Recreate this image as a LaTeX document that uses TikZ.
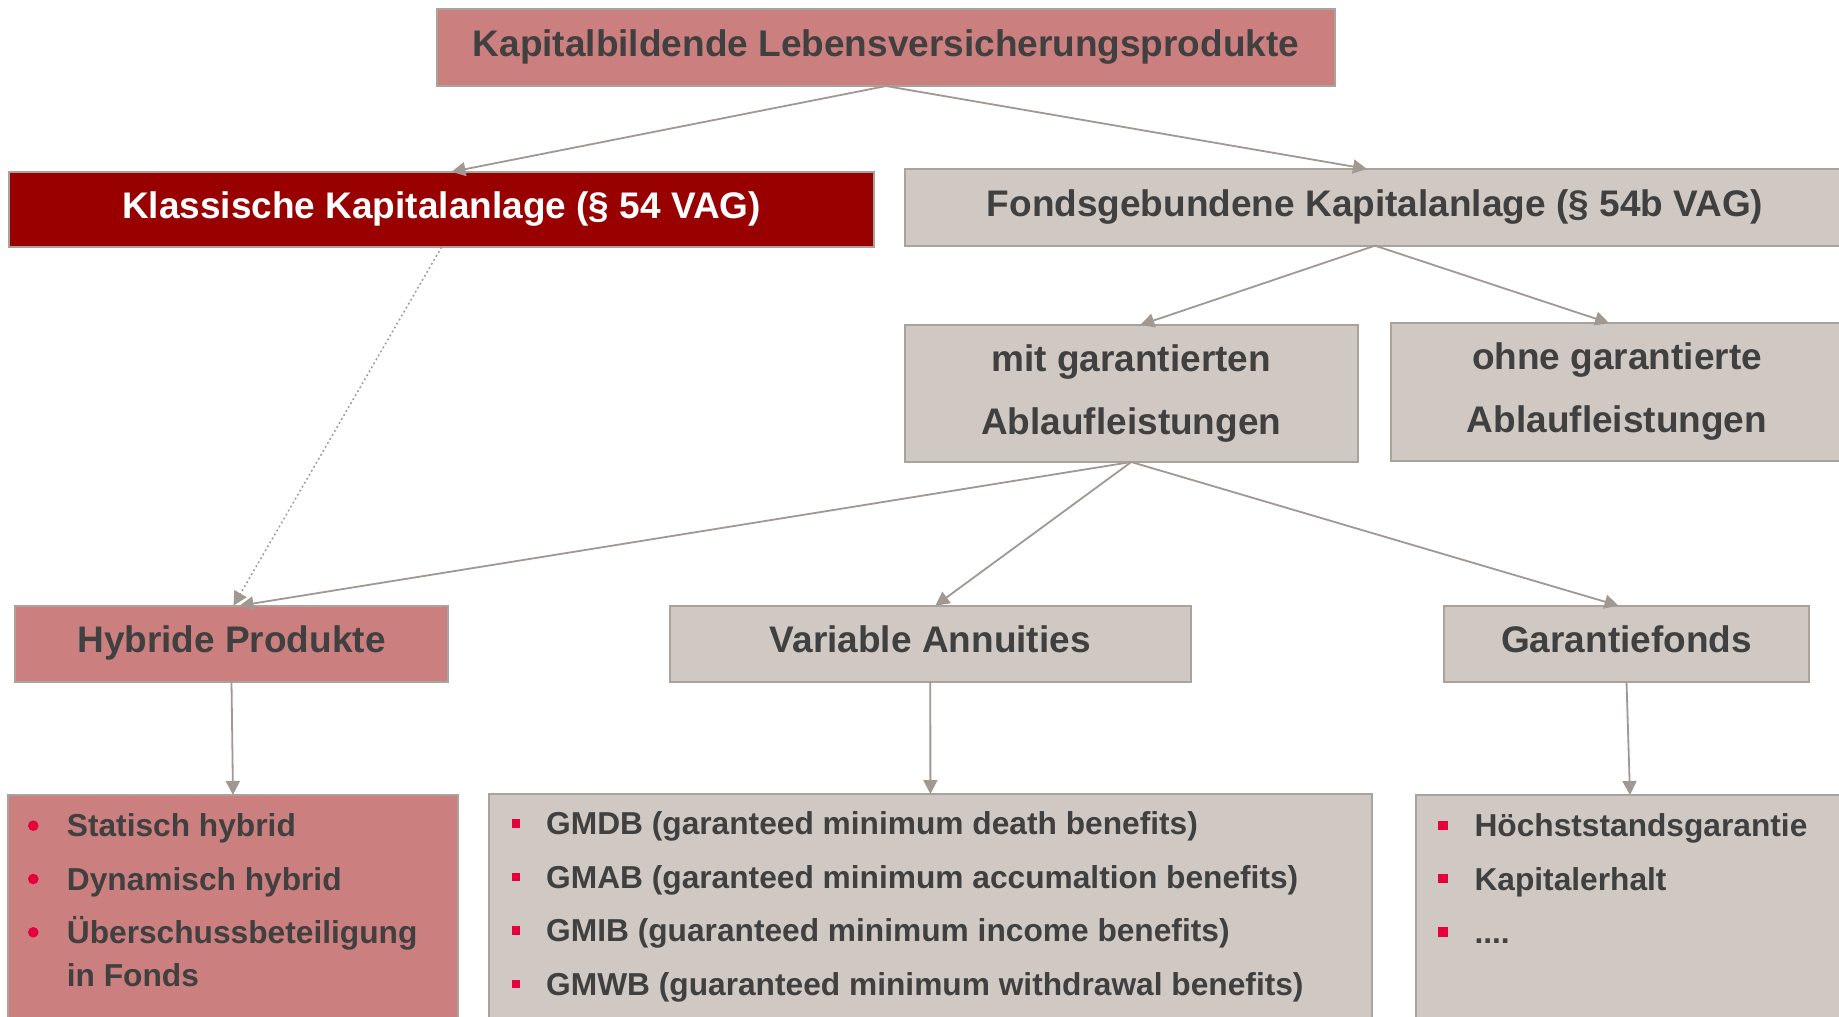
\documentclass[tikz,border=0pt]{standalone}
\usepackage{fontspec}
\setmainfont{Liberation Sans}
\usetikzlibrary{arrows.meta}
\definecolor{pinkfill}{HTML}{CC7F7F}
\definecolor{redfill}{HTML}{990000}
\definecolor{grayfill}{HTML}{D0C9C3}
\definecolor{bordergray}{HTML}{AAA39D}
\definecolor{arrowgray}{HTML}{A09891}
\definecolor{textdark}{HTML}{404040}
\definecolor{bulletred}{HTML}{E6003C}
\newcommand\hdrfont{\fontsize{37}{44}\selectfont\bfseries}
\newcommand\bulfont{\fontsize{31.7}{38}\selectfont\bfseries}
\begin{document}
\begin{tikzpicture}[x=1pt,y=-1pt,
  box/.style={draw=bordergray, line width=2pt, inner sep=0pt, outer sep=0pt,
    text height=27pt, text depth=9pt, font=\hdrfont, text=textdark},
  pinkbox/.style={box, fill=pinkfill},
  redbox/.style={box, fill=redfill, text=white},
  graybox/.style={box, fill=grayfill},
  hdrtext/.style={font=\hdrfont, text=textdark, inner sep=0pt, anchor=base},
  bultext/.style={font=\bulfont, text=textdark, inner sep=0pt, anchor=base west},
  dotbul/.style={circle, fill=bulletred, inner sep=0pt, minimum size=10.6pt},
  sqbul/.style={rectangle, fill=bulletred, inner sep=0pt, minimum size=#1},
  arr/.style={draw=arrowgray, line width=1.8pt, -{Triangle[length=14pt,width=14pt]}},
  dotarr/.style={draw=arrowgray, line width=1.5pt, dash pattern=on 1.8pt off 2.8pt,
    -{Triangle[length=14pt,width=14pt,fill=arrowgray]}}
]
\useasboundingbox (0,0) rectangle (1839,1017);
\clip (0,0) rectangle (1839,1017);

% boxes
\node[pinkbox, minimum width=898, minimum height=76.7] (top) at (886,47.7) {Kapitalbildende Lebensversicherungsprodukte};
\node[redbox, minimum width=865, minimum height=75.3] (klass) at (441.5,209.5) {Klassische Kapitalanlage (§ 54 VAG)};
\node[graybox, minimum width=941, minimum height=76.7] (fonds) at (1375,207.3) {Fondsgebundene Kapitalanlage (§ 54b VAG)};
\node[graybox, minimum width=453.5, minimum height=137] (mit) at (1131.25,393.5) {};
\node[graybox, minimum width=452.6, minimum height=137.7] (ohne) at (1617,391.9) {};
\node[pinkbox, minimum width=433, minimum height=76] (hyb) at (231.5,643.7) {Hybride Produkte};
\node[graybox, minimum width=521.5, minimum height=76] (var) at (930.3,643.7) {Variable Annuities};
\node[graybox, minimum width=365, minimum height=76] (gar) at (1626.5,643.7) {Garantiefonds};
\node[pinkbox, anchor=north, minimum width=449.4, minimum height=300] (hl) at (233,795) {};
\node[graybox, anchor=north, minimum width=883.2, minimum height=300] (vl) at (930.4,794) {};
\node[graybox, anchor=north, minimum width=428, minimum height=300] (gl) at (1630,795) {};

% two-line texts
\node[hdrtext] (mit1) at (1131.25,371.7) {mit garantierten};
\node[hdrtext] (mit2) at (1131.25,434) {Ablaufleistungen};
\node[hdrtext] (ohne1) at (1617,369.9) {ohne garantierte};
\node[hdrtext] (ohne2) at (1617,432.2) {Ablaufleistungen};

% left list
\node[dotbul] (hb1) at (33.3,825.7) {};
\node[dotbul] (hb2) at (33.3,879) {};
\node[dotbul] (hb3) at (33.3,932.3) {};
\node[bultext] (ht1) at (66.7,836.7) {Statisch hybrid};
\node[bultext] (ht2) at (66.7,890) {Dynamisch hybrid};
\node[bultext] (ht3) at (66.7,943.3) {Überschussbeteiligung};
\node[bultext] (ht4) at (66.7,986.3) {in Fonds};

% middle list
\node[sqbul=8.5pt] (vb1) at (516,823.5) {};
\node[sqbul=8.5pt] (vb2) at (516,877) {};
\node[sqbul=8.5pt] (vb3) at (516,930.5) {};
\node[sqbul=8.5pt] (vb4) at (516,984) {};
\node[bultext] (vt1) at (546,834.5) {GMDB (garanteed minimum death benefits)};
\node[bultext] (vt2) at (546,888) {GMAB (garanteed minimum accumaltion benefits)};
\node[bultext] (vt3) at (546,941.5) {GMIB (guaranteed minimum income benefits)};
\node[bultext] (vt4) at (546,995) {GMWB (guaranteed minimum withdrawal benefits)};

% right list
\node[sqbul=9.3pt] (gb1) at (1443,825.5) {};
\node[sqbul=9.3pt] (gb2) at (1443,878.8) {};
\node[sqbul=9.3pt] (gb3) at (1443,932.1) {};
\node[bultext] (gt1) at (1474.3,836.7) {Höchststandsgarantie};
\node[bultext] (gt2) at (1474.3,890) {Kapitalerhalt};
\node[bultext] (gt3) at (1474.3,943.3) {....};

% connectors
\draw[arr] (top.south) -- ([xshift=10pt]klass.north);
\draw[arr] (top.south) -- ([xshift=-8pt]fonds.north);
\draw[arr] (fonds.south) -- ([xshift=9pt]mit.north);
\draw[arr] (fonds.south) -- ([xshift=-8pt]ohne.north);
\draw[dotarr] (klass.south) -- ([xshift=2pt]hyb.north);
\draw[arr] (mit.south) -- ([xshift=8pt]hyb.north);
\draw[arr] (mit.south) -- ([xshift=5pt]var.north);
\draw[arr] (mit.south) -- ([xshift=-8pt]gar.north);
\draw[arr] (hyb.south) -- (hl.north);
\draw[arr] (var.south) -- (vl.north);
\draw[arr] (gar.south) -- (gl.north);
\end{tikzpicture}
\end{document}
